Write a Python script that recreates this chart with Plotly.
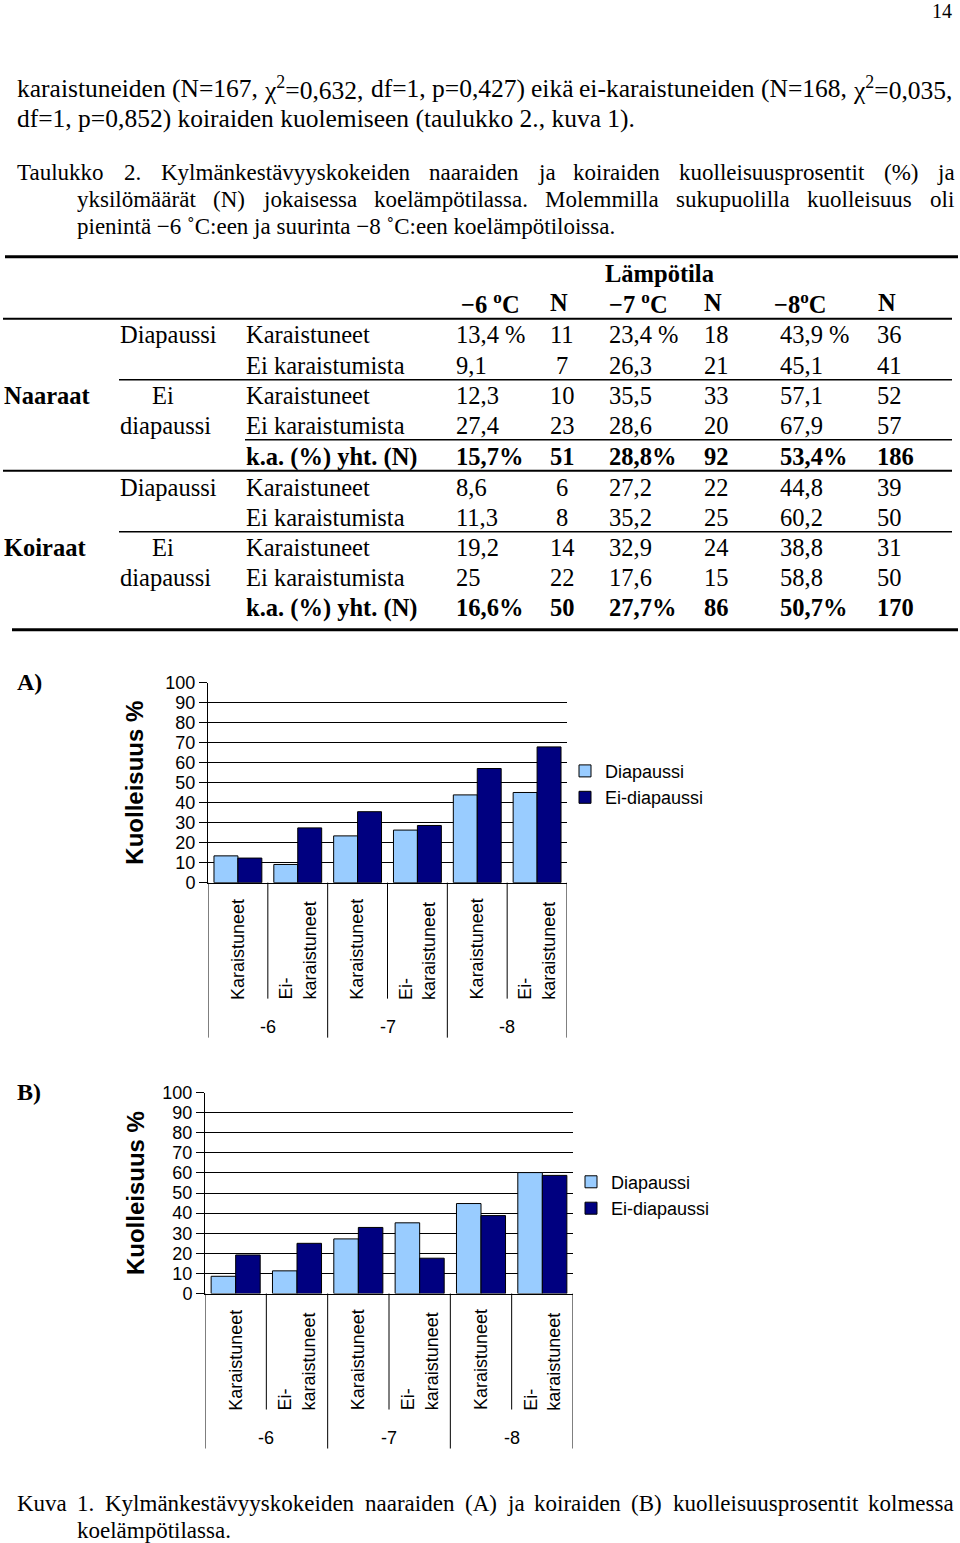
import plotly.graph_objects as go

# ---------------- data ----------------
temps = ["-6", "-7", "-8"]
treatments = ["Karaistuneet", "Ei-karaistuneet"]
treatment_ticktext = ["Karaistuneet", "Ei-<br>karaistuneet"]
series_names = ["Diapaussi", "Ei-diapaussi"]

# A) naaraat (females), order: -6 K, -6 EiK, -7 K, -7 EiK, -8 K, -8 EiK
naaraat_diapaussi = [13.4, 9.1, 23.4, 26.3, 43.9, 45.1]
naaraat_ei_diapaussi = [12.3, 27.4, 35.5, 28.6, 57.1, 67.9]
# B) koiraat (males)
koiraat_diapaussi = [8.6, 11.3, 27.2, 35.2, 44.8, 60.2]
koiraat_ei_diapaussi = [19.2, 25, 32.9, 17.6, 38.8, 58.8]

# table N values (rows: Dia K, Dia EiK, EiDia K, EiDia EiK), columns -6,-7,-8
naaraat_n = [[11, 18, 36], [7, 21, 41], [10, 33, 52], [23, 20, 57]]
naaraat_avg = [15.7, 28.8, 53.4]
naaraat_tot = [51, 92, 186]
koiraat_n = [[6, 22, 39], [8, 25, 50], [14, 24, 31], [22, 15, 50]]
koiraat_avg = [16.6, 27.7, 50.7]
koiraat_tot = [50, 86, 170]

y_ticks = list(range(0, 101, 10))
y_title = "Kuolleisuus %"

# ---------------- helpers ----------------
W, H = 960, 1543
SERIF = "Liberation Serif, Times New Roman, serif"
SANS = "Liberation Sans, Arial, sans-serif"
BODY = 25.5
PARA = 23
TAB = 24.5
CH = 18
# vertical calibration of the photographed page
VS, VO = 0.9873, 9.1


def P(x):
    return x / W


def Q(y):
    return 1 - ((y - VO) / VS) / H


ann = []
shp = []


def text(x, y, s, size, family=SERIF, xanchor="left", yanchor="middle",
         angle=0, align="left", xref="paper"):
    ann.append(dict(x=(P(x) if xref == "paper" else x), y=Q(y), xref=xref,
                    yref="paper", text=s, showarrow=False, xanchor=xanchor,
                    yanchor=yanchor, textangle=angle, align=align, borderpad=0,
                    font=dict(family=family, size=size, color="black")))


TW = {' ': 250, '!': 333, '%': 833, '(': 333, ')': 333, ',': 250, '-': 333,
      '.': 250, ':': 278, '=': 564, '−': 564, '˚': 333, 'χ': 549,
      'ä': 444, 'ö': 500,
      'A': 722, 'B': 667, 'C': 667, 'K': 722, 'M': 889, 'N': 722, 'T': 611,
      'a': 444, 'b': 500, 'c': 444, 'd': 500, 'e': 444, 'f': 333, 'g': 500,
      'h': 500, 'i': 278, 'j': 278, 'k': 500, 'l': 278, 'm': 778, 'n': 500,
      'o': 500, 'p': 500, 'q': 500, 'r': 333, 's': 389, 't': 278, 'u': 500,
      'v': 500, 'w': 722, 'x': 500, 'y': 500, 'z': 444}
for d in "0123456789":
    TW[d] = 500


def width(s, size):
    total = 0.0
    scale = 1.0
    i = 0
    while i < len(s):
        if s.startswith("<sup>", i):
            scale = 0.7
            i += 5
            continue
        if s.startswith("</sup>", i):
            scale = 1.0
            i += 6
            continue
        total += TW.get(s[i], 500) * scale
        i += 1
    return total / 1000 * size


def justify(line, x0, x1, y, size):
    words = line.split(" ")
    ws = [width(w, size) for w in words]
    gap = (x1 - x0 - sum(ws)) / (len(words) - 1)
    x = x0
    for w, wd in zip(words, ws):
        text(x, y, w, size)
        x += wd + gap


def hline(y, x0, x1, w):
    shp.append(dict(type="line", xref="paper", yref="paper", x0=P(x0), x1=P(x1),
                    y0=Q(y), y1=Q(y), line=dict(color="black", width=w)))


def fmt(v):
    return f"{v:g}".replace(".", ",")


# ---------------- page text ----------------
text(953, 10, "14", 20, xanchor="right")
justify("karaistuneiden (N=167, χ<sup>2</sup>=0,632, df=1, p=0,427) eikä "
        "ei-karaistuneiden (N=168, χ<sup>2</sup>=0,035,", 16, 953, 88, BODY)
text(16, 118, "df=1, p=0,852) koiraiden kuolemiseen (taulukko 2., kuva 1).", BODY)
justify("Taulukko 2. Kylmänkestävyyskokeiden naaraiden ja koiraiden "
        "kuolleisuusprosentit (%) ja", 16, 953, 172, PARA)
justify("yksilömäärät (N) jokaisessa koelämpötilassa. Molemmilla sukupuolilla "
        "kuolleisuus oli", 76, 953, 199, PARA)
text(76, 226, "pienintä −6 ˚C:een ja suurinta −8 ˚C:een koelämpötiloissa.", PARA)

# ---------------- table ----------------
hline(256, 5, 958, 3)
hline(318, 3, 952, 2)
hline(379, 119, 952, 1.5)
hline(439, 245, 952, 1.5)
hline(470, 3, 952, 2)
hline(531, 119, 952, 1.5)
hline(629, 12, 958, 3)

text(659, 273, "<b>Lämpötila</b>", TAB, xanchor="center")
head_y = 302
for lbl, x in zip(temps, [460, 608, 773]):
    sp = " " if lbl != "-8" else ""
    text(x, head_y, "<b>" + lbl.replace("-", "−") + sp + "<sup>o</sup>C</b>", TAB)
for x in [549, 703, 877]:
    text(x, head_y, "<b>N</b>", TAB)

val_x = [455, 608, 779]
n_x = [(562, "center"), (703, "left"), (876, "left")]
row_labels = ["Karaistuneet", "Ei karaistumista", "Karaistuneet",
              "Ei karaistumista"]


def table_block(ys, sex, dia, eidia, nvals, avg, tot):
    # percentages per row from the chart series
    rows = [dia[0::2], dia[1::2], eidia[0::2], eidia[1::2]]
    text(3, ys[2], "<b>" + sex + "</b>", TAB)
    text(119, ys[0], "Diapaussi", TAB)
    text(163, ys[2], "Ei", TAB, xanchor="center")
    text(119, ys[3], "diapaussi", TAB)
    for r in range(4):
        text(245, ys[r], row_labels[r], TAB)
        for c in range(3):
            s = fmt(rows[r][c])
            if r == 0 and sex == "Naaraat":
                s += " %"
            text(val_x[c], ys[r], s, TAB)
            text(n_x[c][0], ys[r], str(nvals[r][c]), TAB, xanchor=n_x[c][1])
    text(245, ys[4], "<b>k.a. (%) yht. (N)</b>", TAB)
    for c in range(3):
        text(val_x[c], ys[4], "<b>" + fmt(avg[c]) + "%</b>", TAB)
        text(n_x[c][0], ys[4], "<b>" + str(tot[c]) + "</b>", TAB, xanchor=n_x[c][1])


table_block([334, 365, 395, 425, 456], "Naaraat", naaraat_diapaussi,
            naaraat_ei_diapaussi, naaraat_n, naaraat_avg, naaraat_tot)
table_block([487, 517, 547, 577, 607], "Koiraat", koiraat_diapaussi,
            koiraat_ei_diapaussi, koiraat_n, koiraat_avg, koiraat_tot)

# ---------------- charts ----------------
cats = [f"{t} {c}" for t in temps for c in treatments]
colors = ["#99CCFF", "#000080"]

fig = go.Figure()
charts = [
    dict(ax="x", ay="y", leg="legend", data=[naaraat_diapaussi, naaraat_ei_diapaussi],
         x0=208, x1=567, y100=682, y0=882, panel="A)", legx=565, legy=752),
    dict(ax="x2", ay="y2", leg="legend2", data=[koiraat_diapaussi, koiraat_ei_diapaussi],
         x0=205, x1=573, y100=1092, y0=1293, panel="B)", legx=571, legy=1163),
]

layout_axes = {}
for k, ch in enumerate(charts):
    for s in range(2):
        fig.add_trace(go.Bar(
            x=cats, y=ch["data"][s], name=series_names[s],
            xaxis=ch["ax"], yaxis=ch["ay"], legend=ch["leg"],
            marker=dict(color=colors[s], line=dict(color="black", width=1)),
            hoverinfo="y+name"))
    xname = "xaxis" if k == 0 else "xaxis2"
    yname = "yaxis" if k == 0 else "yaxis2"
    layout_axes[xname] = dict(
        domain=[P(ch["x0"]), P(ch["x1"])], anchor=ch["ay"], type="category",
        range=[-0.5, len(cats) - 0.5], showticklabels=False, ticks="",
        showgrid=False, zeroline=False, showline=True, linecolor="black",
        linewidth=1, fixedrange=True)
    layout_axes[yname] = dict(
        domain=[Q(ch["y0"]), Q(ch["y100"])], anchor=ch["ax"], range=[0, 100],
        tickmode="array", tickvals=y_ticks, ticks="outside", ticklen=8,
        tickcolor="black", showgrid=True, gridcolor="black", gridwidth=1,
        zeroline=False, showline=True, linecolor="black", linewidth=1,
        tickfont=dict(family=SANS, size=CH, color="black"), fixedrange=True)
    layout_axes[ch["leg"]] = dict(
        x=P(ch["legx"]), y=Q(ch["legy"]), xanchor="left", yanchor="top",
        bgcolor="rgba(0,0,0,0)", borderwidth=0,
        font=dict(family=SANS, size=CH, color="black"))

    # separators below the axis (category boundaries)
    y_low_long = ch["y0"] + 155
    y_low_short = ch["y0"] + 116
    for b in range(len(cats) + 1):
        yb = y_low_long if b % 2 == 0 else y_low_short
        shp.append(dict(type="line", xref=ch["ax"], yref="paper", x0=b - 0.5,
                        x1=b - 0.5, y0=Q(ch["y0"]), y1=Q(yb),
                        line=dict(color="black", width=1)))
    # category labels
    for i in range(len(cats)):
        text(i, ch["y0"] + 118, treatment_ticktext[i % 2], CH, family=SANS,
             xanchor="center", yanchor="bottom", angle=-90, align="left",
             xref=ch["ax"])
    for g, t in enumerate(temps):
        text(2 * g + 0.5, ch["y0"] + 144, t, CH, family=SANS,
             xanchor="center", xref=ch["ax"])
    # y title
    text(135, (ch["y0"] + ch["y100"]) / 2, "<b>" + y_title + "</b>", 24,
         family=SANS, xanchor="center", angle=-90)
    # panel label
    text(16, ch["y100"] - 1, "<b>" + ch["panel"] + "</b>", 24)

# caption
justify("Kuva 1. Kylmänkestävyyskokeiden naaraiden (A) ja koiraiden (B) "
        "kuolleisuusprosentit kolmessa", 16, 953, 1503, PARA)
text(76, 1530, "koelämpötilassa.", PARA)

fig.update_layout(
    width=W, height=H, autosize=False,
    margin=dict(l=0, r=0, t=0, b=0),
    paper_bgcolor="white", plot_bgcolor="white",
    barmode="group", bargap=0.2, bargroupgap=0,
    showlegend=True,
    annotations=ann, shapes=shp,
    font=dict(family=SANS, color="black"),
    **layout_axes,
)

page_css = """
(function(){
  var h = document.documentElement, b = document.body;
  [h, b].forEach(function(e){
    e.style.margin = '0px'; e.style.padding = '0px';
    e.style.width = '960px'; e.style.height = '1543px';
    e.style.overflow = 'hidden';
  });
  var d = document.getElementsByClassName('plotly-graph-div')[0];
  if (d) {
    d.style.position = 'absolute'; d.style.left = '0px'; d.style.top = '0px';
  }
})();
"""

fig.write_html("out.html", config={"displayModeBar": False},
               post_script=page_css)
